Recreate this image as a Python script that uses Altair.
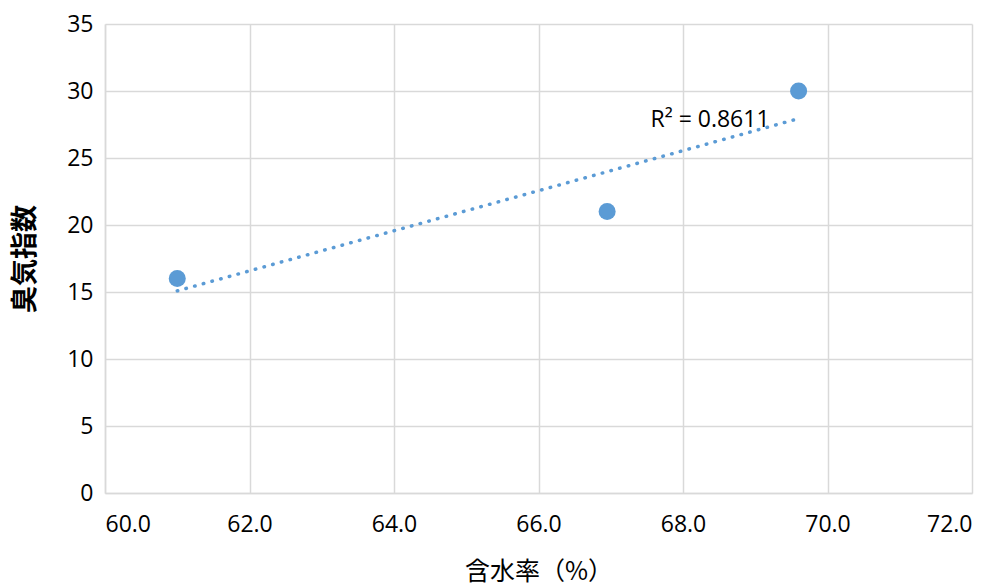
import altair as alt
import pandas as pd

moisture = [61.0, 66.95, 69.6]
odor_index = [16, 21, 30]
r2_label = "R² = 0.8611"

df = pd.DataFrame({"x": moisture, "y": odor_index})
lab = pd.DataFrame({"x": [67.55], "y": [27.8], "t": [r2_label]})

font = "Open Sans"
cjk = "Noto Sans CJK JP"
blue = "#5B9BD5"

xs = alt.Scale(domain=[60, 72], nice=False, zero=False)
ys = alt.Scale(domain=[0, 35], nice=False)

xaxis = alt.Axis(title="含水率（%）", values=[60, 62, 64, 66, 68, 70, 72], format=".1f",
                 grid=True, gridColor="#D9D9D9", gridWidth=1.5, domainColor="#D9D9D9",
                 domainWidth=1.5, ticks=False, labelFont=font, labelFontSize=23,
                 labelColor="#000", labelPadding=20, titleFont=cjk, titleFontSize=25,
                 titleFontWeight="normal", titleColor="#000", titlePadding=23)
yaxis = alt.Axis(title="臭気指数", values=[0, 5, 10, 15, 20, 25, 30, 35],
                 grid=True, gridColor="#D9D9D9", gridWidth=1.5, domainColor="#D9D9D9",
                 domainWidth=1.5, ticks=False, labelFont=font, labelFontSize=23,
                 labelColor="#000", labelPadding=12, titleFont=cjk, titleFontSize=27,
                 titleFontWeight=600, titleColor="#000", titlePadding=27)

pts = alt.Chart(df).mark_circle(size=290, color=blue, opacity=1).encode(
    x=alt.X("x:Q", scale=xs, axis=xaxis),
    y=alt.Y("y:Q", scale=ys, axis=yaxis),
)

trend = alt.Chart(df).transform_regression("x", "y").mark_line(
    color=blue, strokeWidth=3.5, strokeCap="round", strokeDash=[0.5, 8.5]
).encode(x=alt.X("x:Q", scale=xs), y=alt.Y("y:Q", scale=ys))

txt = alt.Chart(lab).mark_text(align="left", baseline="middle", font=font,
                               fontSize=23, color="#000").encode(
    x=alt.X("x:Q", scale=xs), y=alt.Y("y:Q", scale=ys), text="t:N")

chart = alt.layer(trend, pts, txt).properties(
    width=867, height=469,
    autosize=alt.AutoSizeParams(type="none"),
    padding={"left": 105, "top": 24, "right": 28, "bottom": 95},
).configure_view(stroke=None)

chart.save("out.html", embed_options={"renderer": "svg", "actions": False})
